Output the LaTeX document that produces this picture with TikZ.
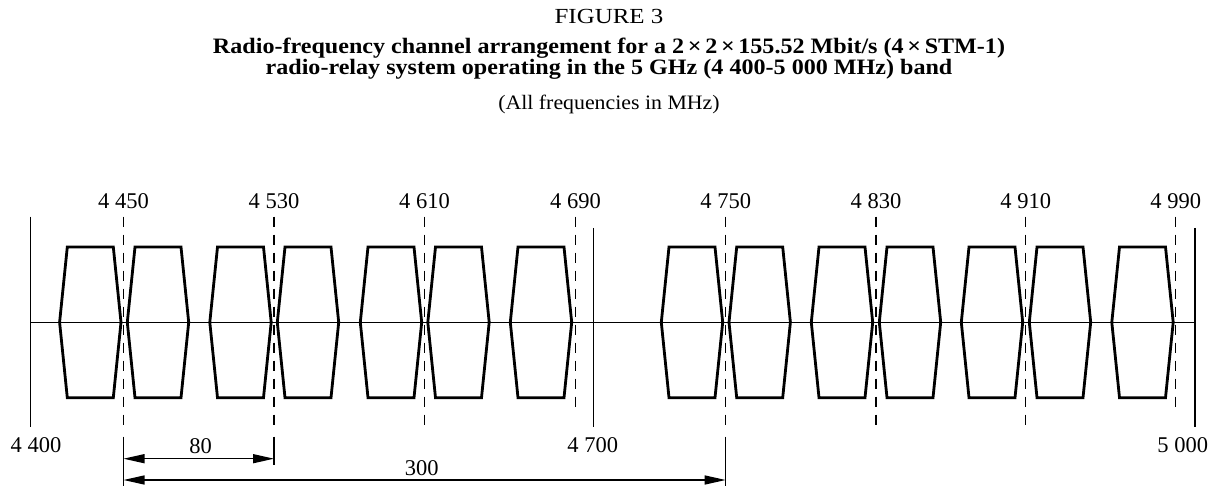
\documentclass[tikz,border=0pt]{standalone}
\usepackage{fontspec}
\setmainfont{Liberation Serif}
\newfontfamily\figfont[FakeStretch=1.16]{Liberation Serif}
\newfontfamily\ttlfont[FakeStretch=1.095]{Liberation Serif}
\newfontfamily\allfont[FakeStretch=1.065]{Liberation Serif}
\usetikzlibrary{arrows.meta}
\begin{document}
\begin{tikzpicture}[x=1pt,y=-1pt,
  chan/.style={line width=2.8pt, line join=miter},
  axisln/.style={line width=1.3pt},
  dashln/.style={line width=1.4pt, dash pattern=on 10pt off 8pt},
  dimarrow/.style={line width=1.3pt, {Triangle[length=21pt,width=9pt]}-{Triangle[length=21pt,width=9pt]}},
  freq/.style={font=\fontsize{22.5}{27}\selectfont, inner sep=0pt, anchor=base},
  ttl/.style={font=\ttlfont\fontsize{22}{26}\selectfont\bfseries, inner sep=0pt, anchor=base},
  figtxt/.style={font=\figfont\fontsize{21.5}{25}\selectfont, inner sep=0pt, anchor=base},
  alltxt/.style={font=\allfont\fontsize{20.5}{24}\selectfont, inner sep=0pt, anchor=base},
]
\useasboundingbox (0,0) rectangle (1218,486);

% titles
\node[figtxt] (fig) at (609,24) {FIGURE 3};
\node[ttl] (t1) at (609,54) {Radio-frequency channel arrangement for a 2\,×\,2\,×\,155.52 Mbit/s (4\,×\,STM-1)};
\node[ttl] (t2) at (609,75) {radio-relay system operating in the 5 GHz (4 400-5 000 MHz) band};
\node[alltxt] (all) at (609,110) {(All frequencies in MHz)};

% axis
\coordinate (axL) at (30.7,322.3);
\coordinate (axR) at (1195,322.3);
\draw[axisln] (axL) -- (axR);

% solid band edges
\coordinate (s1t) at (30.7,216.7);  \coordinate (s1b) at (30.7,427);
\coordinate (s2t) at (593.3,228);   \coordinate (s2b) at (593.3,427);
\coordinate (s3t) at (1195,228);    \coordinate (s3b) at (1195,427);
\draw[axisln] (s1t) -- (s1b);
\draw[axisln] (s2t) -- (s2b);
\draw[axisln] (s3t) -- (s3b);

% channels
\foreach \c in {90.3,158,240.5,308,391,458.5,541,692,759.7,842,910,992,1060,1142.5}{
  \draw[chan] (\c-30.7,322.3) -- (\c-23,247) -- (\c+23,247) -- (\c+30.7,322.3)
     -- (\c+23,397.7) -- (\c-23,397.7) -- cycle;
}

% dashed centre lines
\foreach \n/\x/\b in {d1/123.5/427, d2/274/427, d3/424.5/427, d4/575.5/407,
                      d5/725.7/427, d6/876/427, d7/1025.7/427, d8/1175.7/407}{
  \coordinate (\n t) at (\x,216.7);
  \coordinate (\n b) at (\x,\b);
  \draw[dashln] (\n t) -- (\n b);
}

% extension lines
\coordinate (e1t) at (123.5,436.7); \coordinate (e1b) at (123.5,486);
\coordinate (e2t) at (274,436.7);   \coordinate (e2b) at (274,465);
\coordinate (e5t) at (725.7,436.7); \coordinate (e5b) at (725.7,486);
\draw[axisln] (e1t) -- (e1b);
\draw[axisln] (e2t) -- (e2b);
\draw[axisln] (e5t) -- (e5b);

% dimension arrows
\coordinate (a80l) at (123.5,458.7); \coordinate (a80r) at (274,458.7);
\coordinate (a300l) at (123.5,480);  \coordinate (a300r) at (725.7,480);
\draw[dimarrow] (a80l) -- (a80r);
\draw[dimarrow] (a300l) -- (a300r);
\node[freq] (l80) at (200.7,453.3) {80};
\node[freq] (l300) at (421.7,475) {300};

% frequency labels
\node[freq] (f4450) at (123.5,208.3) {4 450};
\node[freq] (f4530) at (274,208.3) {4 530};
\node[freq] (f4610) at (424.5,208.3) {4 610};
\node[freq] (f4690) at (575.5,208.3) {4 690};
\node[freq] (f4750) at (725.7,208.3) {4 750};
\node[freq] (f4830) at (876,208.3) {4 830};
\node[freq] (f4910) at (1025.7,208.3) {4 910};
\node[freq] (f4990) at (1175.7,208.3) {4 990};
\node[freq] (f4400) at (36,452.7) {4 400};
\node[freq] (f4700) at (592.7,452.7) {4 700};
\node[freq] (f5000) at (1182.7,452.7) {5 000};
\end{tikzpicture}
\end{document}
